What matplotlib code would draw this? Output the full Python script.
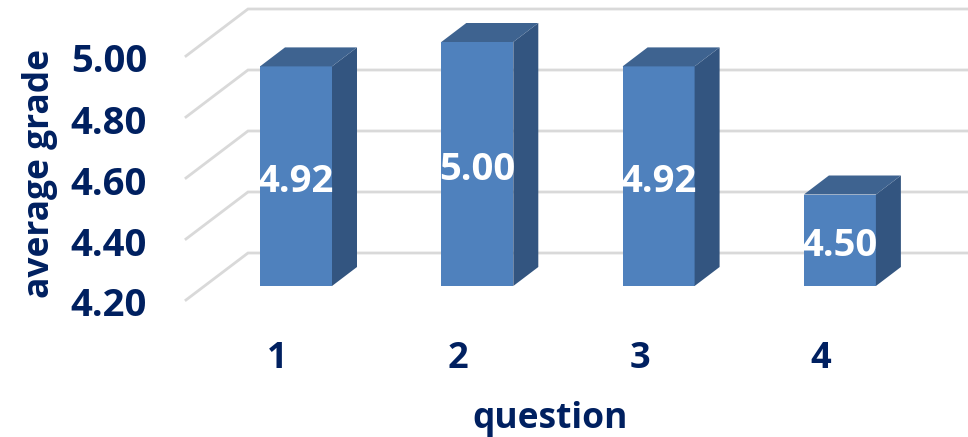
import matplotlib
matplotlib.use('Agg')
import matplotlib.pyplot as plt
from matplotlib.patches import Polygon

plt.rcParams['font.family'] = ['Open Sans', 'DejaVu Sans']

# values
questions = [1, 2, 3, 4]
grades = [4.92, 5.00, 4.92, 4.50]
y_ticks = [4.20, 4.40, 4.60, 4.80, 5.00]

NAVY = '#002060'
FRONT = '#4F81BD'
SIDE = '#335580'
TOP = '#3E6390'
GRID = '#D9D9D9'

W, H = 968, 437
X_SCALE = 181.3  # pixels per question
Y_SCALE = 305.0  # pixels per grade unit
BASE = 4.2
bar_w = 72 / X_SCALE

# fake 3d offsets, in data units
bar_dx, bar_dy = 25 / X_SCALE, 19 / Y_SCALE
wall_x0 = 1 + (186 - 296) / X_SCALE
wall_x1 = 1 + (248 - 296) / X_SCALE
wall_y0 = -14 / Y_SCALE
wall_y1 = 33 / Y_SCALE

fig = plt.figure(figsize=(W / 100, H / 100), dpi=100)
ax = fig.add_axes([0, 0, 1, 1])
ax.set_xlim(1 - 296 / X_SCALE, 1 + (W - 296) / X_SCALE)
ax.set_ylim(BASE - (H - 286) / Y_SCALE, BASE + 286 / Y_SCALE)
ax.axis('off')

# back wall gridlines with the slanted part on the left
x_right = ax.get_xlim()[1]
for t in y_ticks:
    ax.plot([wall_x0, wall_x1, x_right], [t + wall_y0, t + wall_y1, t + wall_y1],
            color=GRID, lw=2, solid_joinstyle='miter', zorder=1)
    ax.text(1 + (147 - 296) / X_SCALE, t + wall_y0 - 2 / Y_SCALE, '%.2f' % t, color=NAVY,
            fontsize=27.5, fontweight='bold', ha='right', va='center_baseline')

# bars
for q, g in zip(questions, grades):
    left, right = q - bar_w / 2, q + bar_w / 2
    ax.add_patch(Polygon([(left, BASE), (right, BASE), (right, g), (left, g)],
                         fc=FRONT, ec='none', zorder=3))
    ax.add_patch(Polygon([(right, BASE), (right + bar_dx, BASE + bar_dy),
                          (right + bar_dx, g + bar_dy), (right, g)],
                         fc=SIDE, ec='none', zorder=3))
    ax.add_patch(Polygon([(left, g), (right, g), (right + bar_dx, g + bar_dy),
                          (left + bar_dx, g + bar_dy)],
                         fc=TOP, ec='none', zorder=3))
    ax.text(q, (g + BASE) / 2 - 1 / Y_SCALE, '%.2f' % g, color='white', fontsize=27.5,
            fontweight='bold', ha='center', va='center_baseline', zorder=4)
    ax.text(q - 19 / X_SCALE, BASE - 69 / Y_SCALE, str(q), color=NAVY, fontsize=26,
            fontweight='bold', ha='center', va='center_baseline')

# axis titles
ax.text(1 + (40 - 296) / X_SCALE, BASE + 113 / Y_SCALE, 'average grade', color=NAVY,
        fontsize=25.5, fontweight='bold', rotation=90, ha='center', va='center')
ax.text(1 + (550 - 296) / X_SCALE, BASE - 133 / Y_SCALE, 'question', color=NAVY,
        fontsize=25.5, fontweight='bold', ha='center', va='center')

fig.savefig('out.png', dpi=100)
